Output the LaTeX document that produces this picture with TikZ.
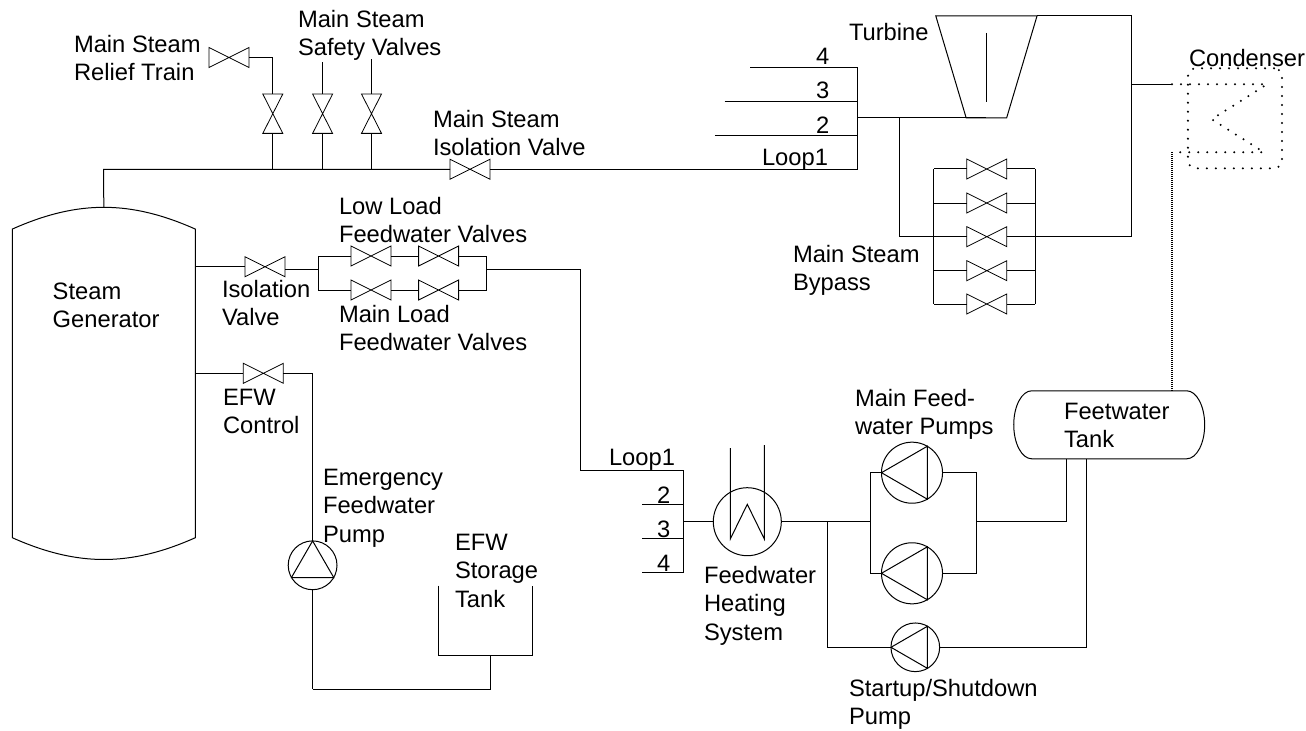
\documentclass[tikz,border=0pt]{standalone}
\usepackage{fontspec}
\setmainfont{Liberation Sans}
\usetikzlibrary{
  positioning,
  calc
}

\begin{document}
\begin{tikzpicture}[
  x=0.75pt, y=-0.75pt,
  line width=0.75pt,
  every node/.style={font=\fontsize{17.8}{21.3}\selectfont, inner sep=0pt, outer sep=0pt},
  lbl/.style={anchor=north west, align=left},
  valveh/.style={minimum width=30pt, minimum height=15pt,
                 append after command={\pgfextra{\draw[line width=0.6pt] (\tikzlastnode.north west) -- (\tikzlastnode.south east)
                   -- (\tikzlastnode.north east) -- (\tikzlastnode.south west) -- cycle;}}},
  valvev/.style={minimum width=15pt, minimum height=29.5pt,
                 append after command={\pgfextra{\draw[line width=0.6pt] (\tikzlastnode.north west) -- (\tikzlastnode.north east)
                   -- (\tikzlastnode.south west) -- (\tikzlastnode.south east) -- cycle;}}},
  pumpl/.style={circle, draw, minimum size=#1,
                 append after command={\pgfextra{\draw (\tikzlastnode.180) -- (\tikzlastnode.60)
                   -- (\tikzlastnode.-60) -- cycle;}}},
  pumpu/.style={circle, draw, minimum size=#1,
                 append after command={\pgfextra{\draw (\tikzlastnode.90) -- (\tikzlastnode.210)
                   -- (\tikzlastnode.330) -- cycle;}}},
  dotline/.style={line width=1.7pt, line cap=round, dash pattern=on 0pt off 6.75pt},
  fineline/.style={line width=1pt, dash pattern=on 0.75pt off 0.75pt}
]
\useasboundingbox (0,0) rectangle (1306,731);

\node[minimum width=137.2pt, minimum height=231.5pt] (sg) at (103.8, 383.4) {};
\draw (sg.north west) to[bend left=24] coordinate[pos=0.5] (sgt) (sg.north east)
      -- (sg.south east) to[bend left=24] (sg.south west) -- cycle;

\node[valveh] (msiv) at (470, 169.3) {};
\node[valveh] (rv) at (228.9, 57.5) {};
\node[valvev] (v1) at (272.8, 113.7) {};
\node[valvev] (v2) at (322.6, 113.7) {};
\node[valvev] (v3) at (371.5, 113.7) {};
\node[valveh] (iso) at (265, 266.7) {};
\node[valveh] (ll1) at (371, 256) {};
\node[valveh] (ll2) at (438.6, 256) {};
\node[valveh] (ml1) at (371, 290) {};
\node[valveh] (ml2) at (438.6, 290) {};
\node[valveh] (efc) at (263.3, 373.3) {};
\node[pumpu=36.6pt] (efp) at (312.6, 565.3) {};

\coordinate (msa) at (103.6, 169.3);
\coordinate (msb) at (857.5, 169.3);
\coordinate (s1) at (322.6, 62);
\coordinate (s2) at (371.5, 59);
\draw (sgt) -- (msa) -- (msiv.west);
\draw (msiv.east) -- (msb);
\draw (v1.south) -- (v1.south |- msa);
\draw (v2.south) -- (v2.south |- msa);
\draw (v3.south) -- (v3.south |- msa);
\draw (v1.north) |- (rv.east);
\draw (v2.north) -- (s1);
\draw (v3.north) -- (s2);

\coordinate (lla) at (318, 269.3);
\coordinate (llb) at (486.7, 269.3);
\coordinate (fwa) at (580, 269.3);
\coordinate (fwb) at (580, 470.3);
\draw (sg.east |- iso) -- (iso.west);
\draw (iso.east |- lla) -- (lla);
\draw (ll1.west) -| (ml1.west -| lla) -- (ml1.west);
\draw (ll1.east) -- (ll2.west);
\draw (ml1.east) -- (ml2.west);
\draw (ll2.east) -| (llb |- ml2) -- (ml2.east);
\draw (llb) -- (fwa) -- (fwb);

\coordinate (efa) at (312.6, 689.3);
\coordinate (efb) at (490.5, 655.7);
\draw (sg.east |- efc) -- (efc.west);
\draw (efc.east) -| (efp.north);
\draw (efp.south) -- (efa);

\node[minimum width=70.4pt, minimum height=52.5pt] (st) at (485.9, 620.7) {};
\draw (st.north west) -- (st.south west) -- (st.south east) -- (st.north east);
\draw (efa) -| (efb);

\coordinate (la) at (683, 470.3);
\coordinate (lb) at (683, 572);
\coordinate (l2) at (642, 504.3);
\coordinate (l3) at (642, 538.3);
\coordinate (l4) at (642, 572);
\draw (fwb) -- (la) -- (lb) -- (l4);
\draw (l2) -- (l2 -| la);
\draw (l3) -- (l3 -| la);

\node[circle, draw, minimum size=51pt] (hx) at (747.3, 521.7) {};
\coordinate (hxa) at (730.3, 448);
\coordinate (hxb) at (730.3, 539);
\coordinate (hxc) at (747.3, 504.3);
\coordinate (hxd) at (764.3, 539);
\coordinate (hxe) at (764.3, 445);
\draw (hxa) -- (hxb) -- (hxc) -- (hxd) -- (hxe);
\draw (hx.west -| la) -- (hx.west);

\node[pumpl=45.8pt] (p1) at (912, 472.7) {};
\node[pumpl=45.8pt] (p2) at (912, 573.3) {};
\node[pumpl=36.5pt] (p3) at (915.3, 647.3) {};
\node[minimum width=116.2pt, minimum height=51pt] (tk) at (1109.2, 424.8) {};
\draw (tk.north west) -- (tk.north east) arc[x radius=13.5pt, y radius=25.5pt, start angle=90, end angle=-90]
      -- (tk.south west) arc[x radius=13.5pt, y radius=25.5pt, start angle=270, end angle=90];

\coordinate (ja) at (827.7, 521.7);
\coordinate (jb) at (870, 521.7);
\coordinate (jc) at (976, 521.7);
\coordinate (tka) at (1066, 458.8);
\coordinate (tkb) at (1086.3, 458.8);
\draw (hx.east) -- (jb);
\draw (p1.west) -| (jb) |- (p2.west);
\draw (p1.east) -| (jc) |- (p2.east);
\draw (jc) -| (tka);
\draw (ja) |- (p3.west);
\draw (p3.east) -| (tkb);

\node[minimum width=75.9pt, minimum height=76.5pt] (tb) at (986.4, 67) {};
\draw (tb.north west) -- (tb.north east) -- ($(tb.south)+(20.2,0)$) -- ($(tb.south)+(-20.2,0)$) -- cycle;
\coordinate (tbl) at (986, 33);
\coordinate (tbm) at (986, 101.7);
\draw (tbl) -- (tbm);

\coordinate (ma) at (857.5, 67.3);
\coordinate (m4) at (750.4, 67.3);
\coordinate (m3) at (724.5, 101.3);
\coordinate (m2) at (714.9, 135.3);
\coordinate (mo) at (857.5, 118);
\coordinate (mj) at (899.8, 118);
\draw (msb) -- (ma) -- (m4);
\draw (m3) -- (m3 -| ma);
\draw (m2) -- (m2 -| ma);
\draw (mo) -- (tb.south);

\node[valveh] (b1) at (986.8, 169) {};
\node[valveh] (b2) at (986.8, 203) {};
\node[valveh] (b3) at (986.8, 236.7) {};
\node[valveh] (b4) at (986.8, 270.7) {};
\node[valveh] (b5) at (986.8, 304) {};
\coordinate (bl) at (933.7, 169);
\coordinate (br) at (1035, 169);
\coordinate (to) at (1131, 236.7);
\coordinate (tt) at (1131, 16);
\foreach \n in {1,...,5}{
  \draw (b\n.west) -- (b\n.west -| bl);
  \draw (b\n.east) -- (b\n.east -| br);
}
\draw (bl) -- (bl |- b5);
\draw (br) -- (br |- b5);
\draw (mj) |- (b3.west -| bl);
\draw (b3.east -| br) -- (to) -- (tt) -- (tb.north east);

\node[draw, dotline, rounded corners=6pt, minimum width=70.6pt, minimum height=75pt] (cd) at (1235, 118.3) {};
\coordinate (ca) at (1172, 84.3);
\coordinate (cb) at (1267, 84.3);
\coordinate (cc) at (1211.7, 119.3);
\coordinate (cd2) at (1264, 152.3);
\coordinate (ce) at (1172, 152.3);
\coordinate (cf) at (1172, 390.7);
\draw (to |- ca) -- (ca);
\draw[dotline] (ca) -- (cb) -- (cc) -- (cd2) -- (ce);
\draw[fineline] (ce) -- (cf);

\node[lbl] (t1) at (74, 35) {Main Steam\\Relief Train};
\node[lbl] (t2) at (298, 10) {Main Steam\\Safety Valves};
\node[lbl] (t3) at (433, 110) {Main Steam\\Isolation Valve};
\node[lbl] (t4) at (339, 197) {Low Load\\Feedwater Valves};
\node[lbl] (t5) at (222, 280) {Isolation\\Valve};
\node[lbl] (t6) at (339, 305) {Main Load\\Feedwater Valves};
\node[lbl] (t7) at (52.7, 283) {Steam\\Generator};
\node[lbl] (t8) at (223, 389) {EFW\\Control};
\node[lbl] (t9) at (323, 469) {Emergency\\Feedwater\\Pump};
\node[lbl] (t10) at (455, 534) {EFW\\Storage\\Tank};
\node[lbl] (t11) at (609, 449) {Loop1};
\node[lbl] (t12) at (657, 487) {2};
\node[lbl] (t13) at (657, 521) {3};
\node[lbl] (t14) at (657, 555) {4};
\node[lbl] (t15) at (704, 566) {Feedwater\\Heating\\System};
\node[lbl] (t16) at (855, 389) {Main Feed-\\water Pumps};
\node[lbl] (t17) at (1064, 403) {Feetwater\\Tank};
\node[lbl] (t18) at (849, 679) {Startup/Shutdown\\Pump};
\node[lbl] (t19) at (849, 23) {Turbine};
\node[lbl] (t20) at (816, 48) {4};
\node[lbl] (t21) at (816, 82) {3};
\node[lbl] (t22) at (816, 117) {2};
\node[lbl] (t23) at (762, 149) {Loop1};
\node[lbl] (t24) at (1189, 49) {Condenser};
\node[lbl] (t25) at (793, 245) {Main Steam\\Bypass};

\end{tikzpicture}
\end{document}
